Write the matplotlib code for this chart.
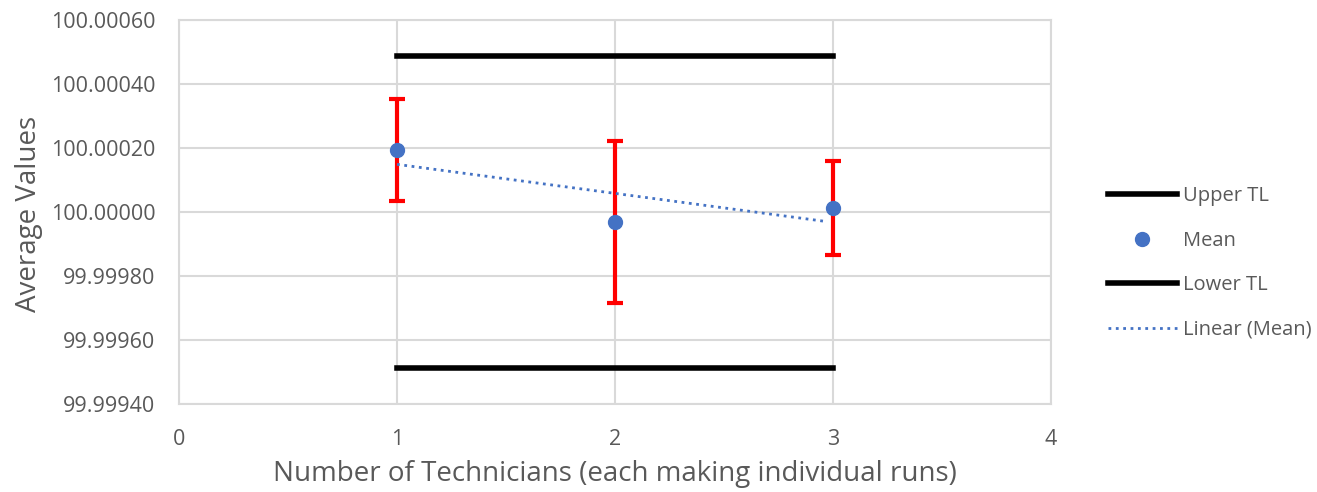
import numpy as np
import matplotlib.pyplot as plt
from matplotlib.ticker import FormatStrFormatter

plt.rcParams["font.family"] = ["Open Sans", "DejaVu Sans"]

# Data.
technicians = np.array([1, 2, 3])
means = np.array([100.000194, 99.999968, 100.0000125])
errors = np.array([0.000160, 0.000253, 0.000147])
upper_tl = np.array([100.000488, 100.000488, 100.000488])
lower_tl = np.array([99.999512, 99.999512, 99.999512])

grey = "#595959"

fig = plt.figure(figsize=(13.17, 4.92), dpi=100)
ax = fig.add_axes([179/1317, 1 - 404/492, (1051 - 179)/1317, (404 - 20)/492])

ax.plot(technicians, upper_tl, color="black", lw=4, label="Upper TL", zorder=3)
ax.errorbar(technicians, means, yerr=errors, fmt="none", ecolor="red",
            elinewidth=3, capsize=6, capthick=3, zorder=4)
ax.plot(technicians, means, "o", color="#4472C4", ms=10, label="Mean", zorder=5)
ax.plot(technicians, lower_tl, color="black", lw=4, label="Lower TL", zorder=3)

# Linear trend of the means, as Excel draws it.
slope, icpt = np.polyfit(technicians, means - 100, 1)
xt = np.array([1, 2.97])
ax.plot(xt, 100 + icpt + slope*xt, ":", color="#4472C4", lw=2,
        label="Linear (Mean)", zorder=4)

ax.set_xlim(0, 4)
ax.set_ylim(99.9994, 100.0006)
ax.set_xticks([0, 1, 2, 3, 4])
ax.set_yticks(np.linspace(99.9994, 100.0006, 7))
ax.yaxis.set_major_formatter(FormatStrFormatter("%.5f"))
ax.grid(True, color="#d9d9d9", lw=1.5)
ax.set_axisbelow(True)
for s in ax.spines.values():
    s.set_color("#d9d9d9")
    s.set_linewidth(1.5)
ax.tick_params(length=0, labelsize=15.5, colors=grey)
ax.tick_params(axis="y", pad=17)
ax.tick_params(axis="x", pad=18)
ax.set_xlabel("Number of Technicians (each making individual runs)",
              fontsize=20, color=grey)
ax.xaxis.set_label_coords(0.5, -0.183, transform=ax.transAxes)
ax.xaxis.label.set_va("center")
ax.set_ylabel("Average Values", fontsize=20, color=grey)
ax.yaxis.set_label_coords(-0.172, 0.495, transform=ax.transAxes)
ax.yaxis.label.set_va("center")

fig.legend(loc="center left", bbox_to_anchor=(1090/1317, 1 - 263/492),
           frameon=False, fontsize=14.5, labelcolor=grey, handlelength=3.4,
           handletextpad=0.3, labelspacing=1.22)

fig.savefig("out.png", dpi=100)
